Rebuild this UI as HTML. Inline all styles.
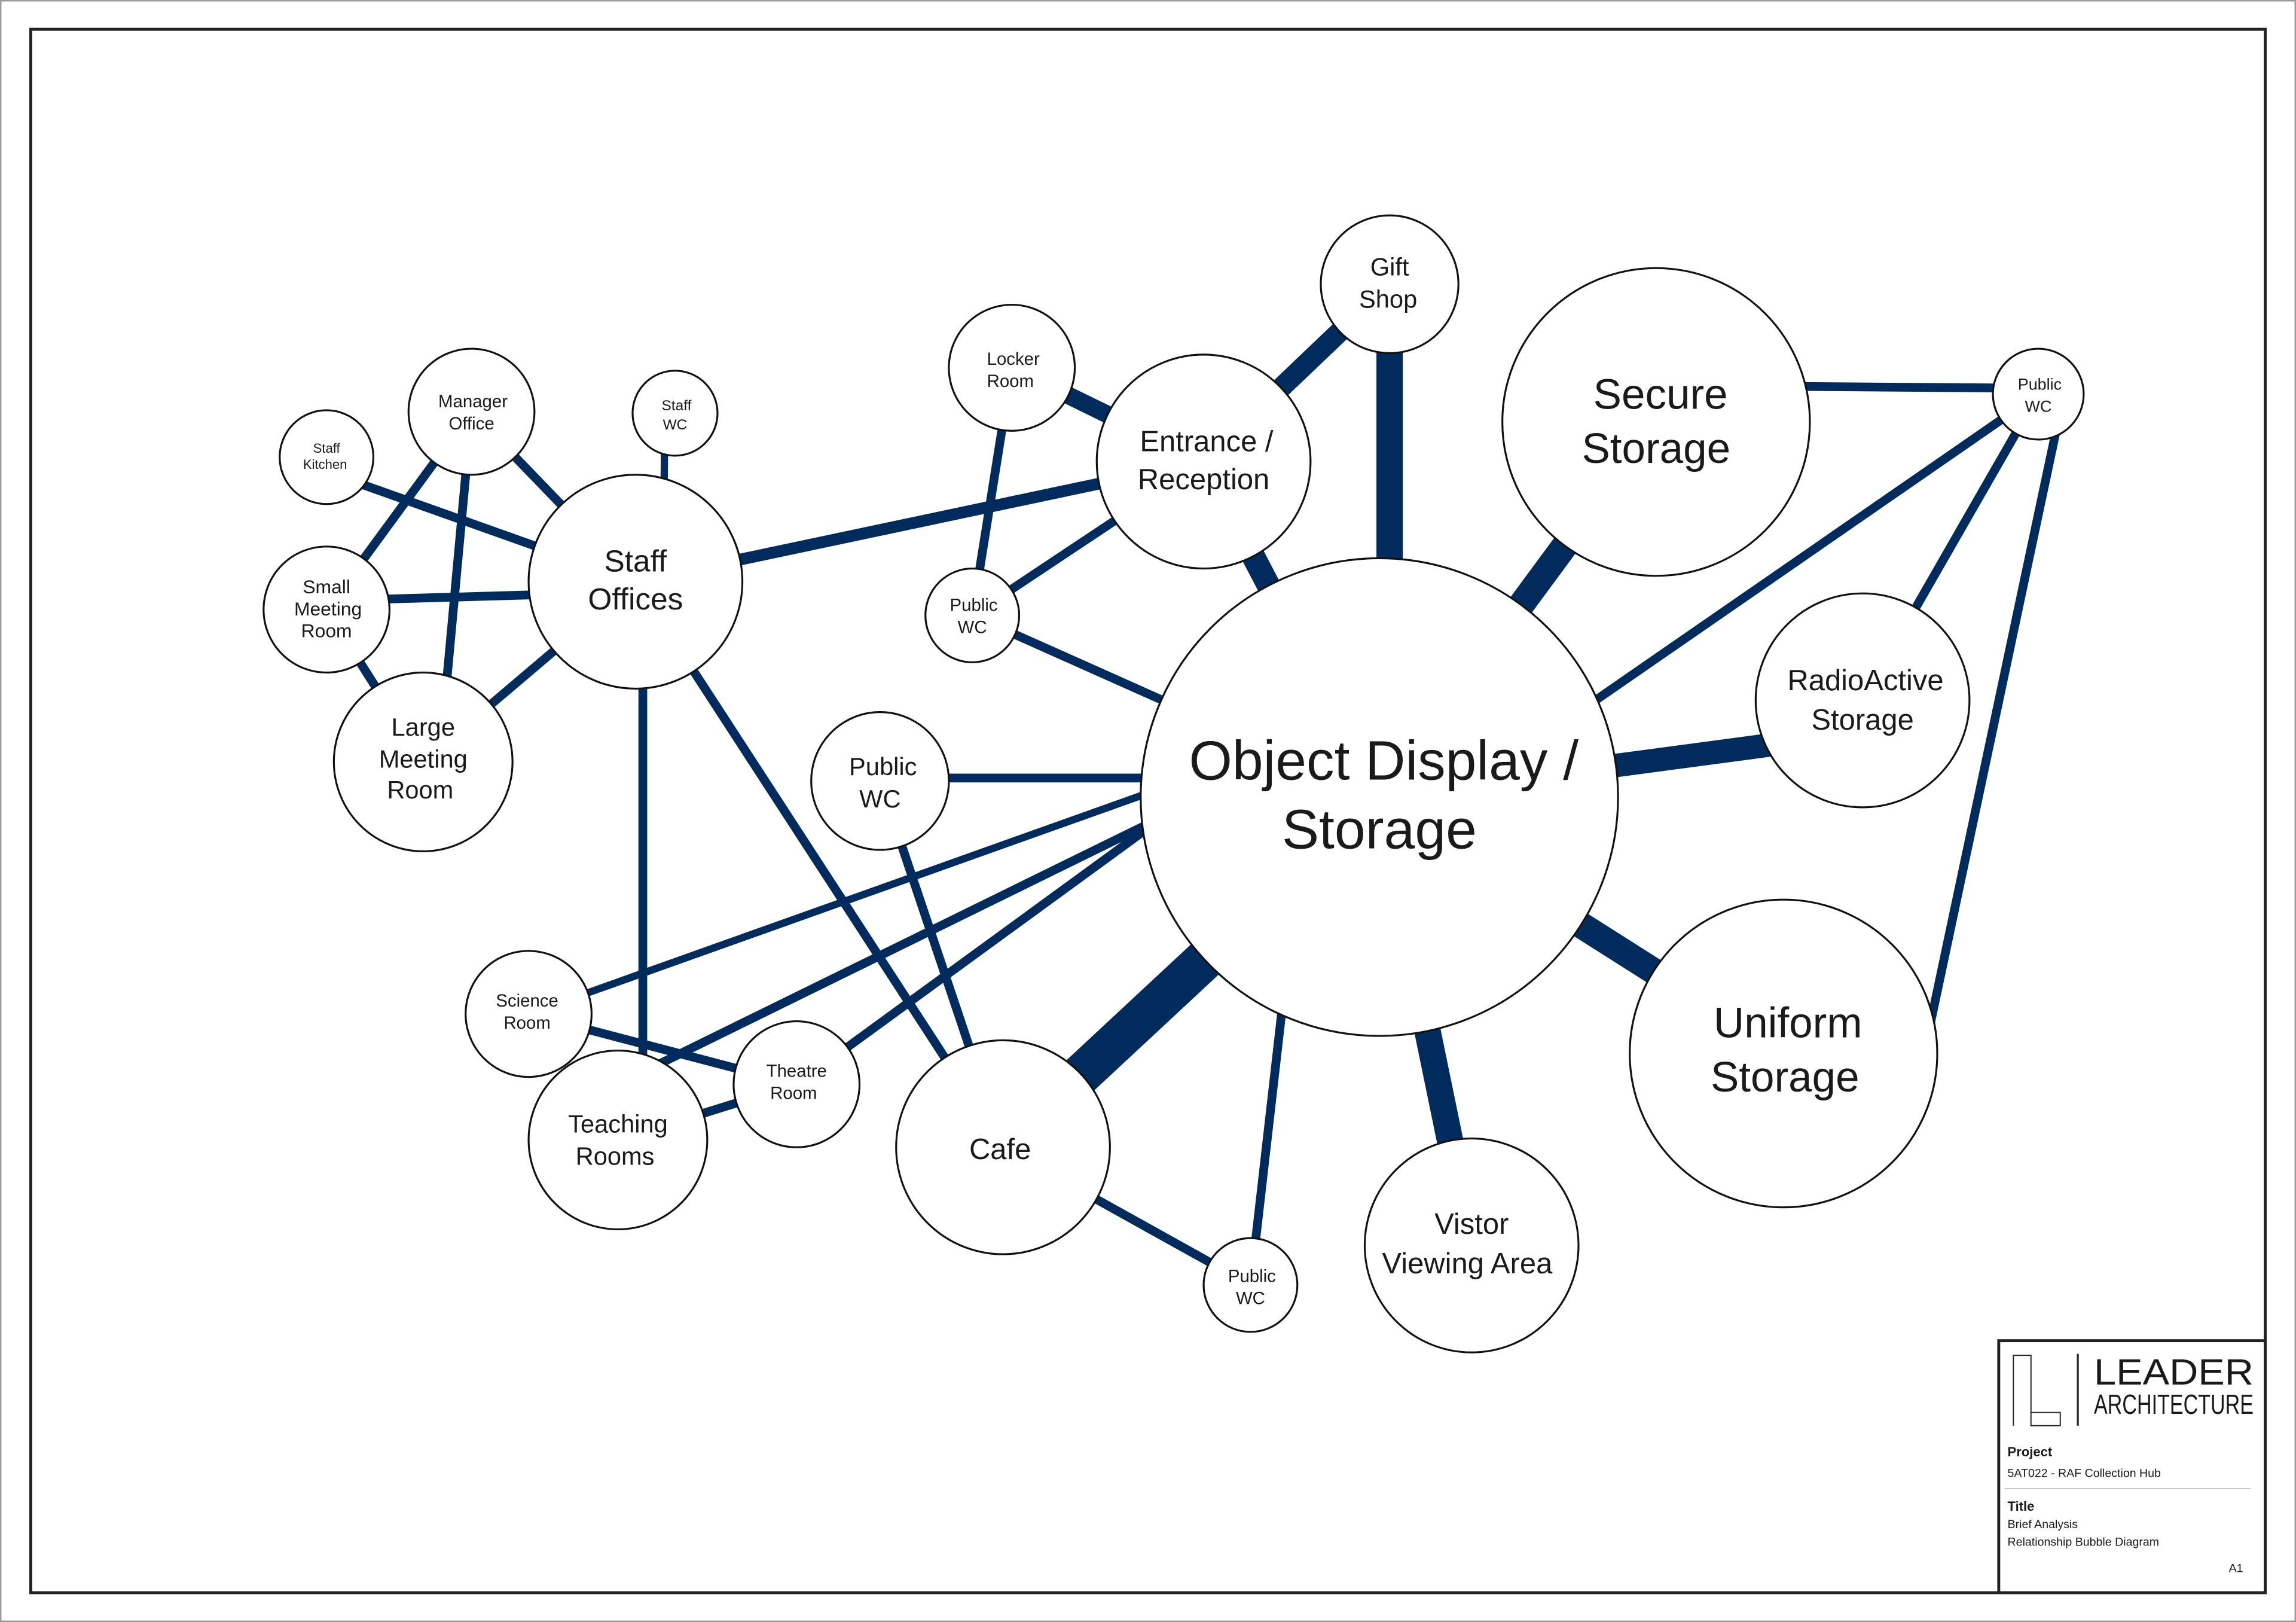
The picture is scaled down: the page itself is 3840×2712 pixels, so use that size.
<!DOCTYPE html>
<html><head><meta charset="utf-8"><style>
html,body{margin:0;padding:0;background:#fff;}
svg{display:block;}
text{font-family:"Liberation Sans Narrow","Liberation Sans",sans-serif;fill:#1a1a1a;text-anchor:middle;}
</style></head><body>
<svg width="3840" height="2712" viewBox="0 0 1568 1107" preserveAspectRatio="none" xmlns="http://www.w3.org/2000/svg">
<rect x="0.5" y="0.5" width="1567" height="1106" fill="#fff" stroke="#999" stroke-width="1"/>
<rect x="21" y="20" width="1526" height="1067" fill="none" stroke="#222" stroke-width="2"/>
<g stroke="#002b5c" stroke-linecap="butt">
<line x1="434" y1="397" x2="822" y2="315" stroke-width="8"/>
<line x1="822" y1="315" x2="949" y2="194" stroke-width="14"/>
<line x1="949" y1="194" x2="949" y2="544" stroke-width="18"/>
<line x1="822" y1="315" x2="942" y2="544" stroke-width="16"/>
<line x1="691" y1="251" x2="822" y2="315" stroke-width="12"/>
<line x1="691" y1="251" x2="664" y2="420" stroke-width="6"/>
<line x1="664" y1="420" x2="822" y2="315" stroke-width="6"/>
<line x1="664" y1="420" x2="942" y2="544" stroke-width="6"/>
<line x1="1131" y1="288" x2="942" y2="544" stroke-width="18"/>
<line x1="1131" y1="263" x2="1392" y2="265" stroke-width="6"/>
<line x1="1392" y1="269" x2="942" y2="580" stroke-width="6"/>
<line x1="1392" y1="269" x2="1272" y2="478" stroke-width="6"/>
<line x1="1405" y1="290" x2="1318" y2="700" stroke-width="6"/>
<line x1="1272" y1="500" x2="942" y2="544" stroke-width="16"/>
<line x1="1218" y1="719" x2="942" y2="544" stroke-width="18"/>
<line x1="1005" y1="850" x2="942" y2="544" stroke-width="18"/>
<line x1="854" y1="877" x2="880" y2="650" stroke-width="6"/>
<line x1="685" y1="783" x2="854" y2="877" stroke-width="6"/>
<line x1="685" y1="783" x2="942" y2="544" stroke-width="28"/>
<line x1="601" y1="531" x2="942" y2="531" stroke-width="6"/>
<line x1="601" y1="533" x2="685" y2="783" stroke-width="6"/>
<line x1="361" y1="692" x2="942" y2="485" stroke-width="5"/>
<line x1="422" y1="740" x2="850" y2="530" stroke-width="6"/>
<line x1="544" y1="740" x2="942" y2="450" stroke-width="6"/>
<line x1="361" y1="692" x2="544" y2="740" stroke-width="6"/>
<line x1="422" y1="778" x2="544" y2="740" stroke-width="6"/>
<line x1="439" y1="397" x2="439" y2="778" stroke-width="6"/>
<line x1="434" y1="397" x2="685" y2="783" stroke-width="6"/>
<line x1="434" y1="397" x2="289" y2="520" stroke-width="6"/>
<line x1="434" y1="404" x2="223" y2="410" stroke-width="6"/>
<line x1="223" y1="322" x2="434" y2="397" stroke-width="6"/>
<line x1="322" y1="281" x2="434" y2="397" stroke-width="6"/>
<line x1="454" y1="282" x2="453" y2="397" stroke-width="5"/>
<line x1="322" y1="281" x2="223" y2="416" stroke-width="6"/>
<line x1="322" y1="281" x2="300" y2="520" stroke-width="6"/>
<line x1="223" y1="416" x2="289" y2="520" stroke-width="6"/>
</g>
<g fill="#fff" stroke="#111" stroke-width="1.3">
<circle cx="942" cy="544" r="163"/>
<circle cx="434" cy="397" r="73"/>
<circle cx="822" cy="315" r="73"/>
<circle cx="949" cy="194" r="47"/>
<circle cx="691" cy="251" r="43"/>
<circle cx="664" cy="420" r="32"/>
<circle cx="1131" cy="288" r="105"/>
<circle cx="1392" cy="269" r="31"/>
<circle cx="1272" cy="478" r="73"/>
<circle cx="1218" cy="719" r="105"/>
<circle cx="1005" cy="850" r="73"/>
<circle cx="854" cy="877" r="32"/>
<circle cx="685" cy="783" r="73"/>
<circle cx="601" cy="533" r="47"/>
<circle cx="361" cy="692" r="43"/>
<circle cx="544" cy="740" r="43"/>
<circle cx="422" cy="778" r="61"/>
<circle cx="289" cy="520" r="61"/>
<circle cx="223" cy="416" r="43"/>
<circle cx="322" cy="281" r="43"/>
<circle cx="223" cy="312" r="32"/>
<circle cx="461" cy="282" r="29"/>
</g>
<g>
<text x="945" y="532" font-size="38">Object Display /</text>
<text x="942" y="579" font-size="38">Storage</text>
<text x="434" y="390" font-size="21">Staff</text>
<text x="434" y="416" font-size="21">Offices</text>
<text x="824" y="308" font-size="20">Entrance /</text>
<text x="822" y="334" font-size="20">Reception</text>
<text x="949" y="188" font-size="17">Gift</text>
<text x="948" y="210" font-size="17">Shop</text>
<text x="692" y="249" font-size="12">Locker</text>
<text x="690" y="264" font-size="12">Room</text>
<text x="665" y="417" font-size="12">Public</text>
<text x="664" y="432" font-size="12">WC</text>
<text x="1134" y="279" font-size="29">Secure</text>
<text x="1131" y="316" font-size="29">Storage</text>
<text x="1393" y="266" font-size="11">Public</text>
<text x="1392" y="281" font-size="11">WC</text>
<text x="1274" y="471" font-size="20">RadioActive</text>
<text x="1272" y="498" font-size="20">Storage</text>
<text x="1221" y="708" font-size="29">Uniform</text>
<text x="1219" y="745" font-size="29">Storage</text>
<text x="1005" y="842" font-size="20">Vistor</text>
<text x="1002" y="869" font-size="20">Viewing Area</text>
<text x="855" y="875" font-size="12">Public</text>
<text x="854" y="890" font-size="12">WC</text>
<text x="683" y="791" font-size="20">Cafe</text>
<text x="603" y="529" font-size="17">Public</text>
<text x="601" y="551" font-size="17">WC</text>
<text x="360" y="687" font-size="12">Science</text>
<text x="360" y="702" font-size="12">Room</text>
<text x="544" y="735" font-size="12">Theatre</text>
<text x="542" y="750" font-size="12">Room</text>
<text x="422" y="773" font-size="17">Teaching</text>
<text x="420" y="795" font-size="17">Rooms</text>
<text x="289" y="502" font-size="17">Large</text>
<text x="289" y="524" font-size="17">Meeting</text>
<text x="287" y="545" font-size="17">Room</text>
<text x="223" y="405" font-size="13">Small</text>
<text x="224" y="420" font-size="13">Meeting</text>
<text x="223" y="435" font-size="13">Room</text>
<text x="323" y="278" font-size="12">Manager</text>
<text x="322" y="293" font-size="12">Office</text>
<text x="223" y="309" font-size="9">Staff</text>
<text x="222" y="320" font-size="9">Kitchen</text>
<text x="462" y="280" font-size="10">Staff</text>
<text x="461" y="293" font-size="10">WC</text>
</g>
<!-- title block -->
<rect x="1365" y="915" width="182" height="172" fill="#fff" stroke="#222" stroke-width="2"/>
<path d="M1375,973 V925 H1387 V973 H1407 V964 H1387" fill="none" stroke="#222" stroke-width="0.8"/>
<line x1="1419" y1="924" x2="1419" y2="973" stroke="#222" stroke-width="1.3"/>
<text x="1430" y="945" font-size="25" textLength="109" lengthAdjust="spacingAndGlyphs" style="text-anchor:start" fill="#222">LEADER</text>
<text x="1430" y="965" font-size="19" textLength="109" lengthAdjust="spacingAndGlyphs" style="text-anchor:start" fill="#222">ARCHITECTURE</text>
<text x="1371" y="994" font-size="9" font-weight="bold" style="text-anchor:start">Project</text>
<text x="1371" y="1008" font-size="8" style="text-anchor:start">5AT022 - RAF Collection Hub</text>
<line x1="1369" y1="1016" x2="1537" y2="1016" stroke="#aaa" stroke-width="0.6"/>
<text x="1371" y="1031" font-size="9" font-weight="bold" style="text-anchor:start">Title</text>
<text x="1371" y="1043" font-size="8" style="text-anchor:start">Brief Analysis</text>
<text x="1371" y="1055" font-size="8" style="text-anchor:start">Relationship Bubble Diagram</text>
<text x="1527" y="1073" font-size="8" style="text-anchor:middle">A1</text>
</svg>
</body></html>
